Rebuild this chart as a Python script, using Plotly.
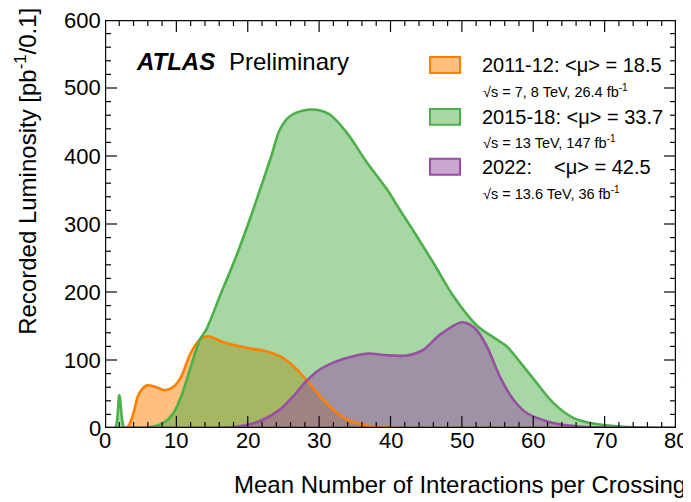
import plotly.graph_objects as go

# ---------------- data ----------------
mu_2011 = [0, 3, 3.3, 4, 4.7, 5.8, 7, 8.4, 9.6, 10.7, 11.9, 13.3, 14.5, 16.6, 19.8, 22.6,
           24.5, 26.4, 28.2, 30.1, 32, 33.9, 36.6, 39.5, 42, 80]
lumi_2011 = [0, 0, 3, 22, 49, 62.5, 60.6, 55.6, 60.6, 76, 108, 130, 135, 126, 118, 113,
             105.6, 91, 71, 47, 27, 12.5, 3.7, 1, 0, 0]

mu_2015 = [0, 1.4, 2.0, 2.7, 3.5, 6.2, 8.2, 9.6, 10.7, 11.9, 13.3, 14.2, 16.1, 18.4, 20.3,
           21.9, 23.3, 24.5, 25.9, 27.8, 29.6, 31.5, 33.9, 36.6, 39.5, 41.3, 43.2, 46.0,
           48.8, 51.1, 52.5, 54.9, 56.3, 58.6, 60.5, 62.8, 65.6, 68.4, 72.1, 75, 80]
lumi_2015 = [0, 0, 48, 0, 0, 1, 7.6, 22, 47, 86, 130, 145, 194, 253, 307,
             356, 400, 439, 458.5, 467, 468, 461, 434, 392, 351, 321, 290, 243,
             194, 162, 147, 130, 120, 91, 66, 37, 15, 6.6, 2, 0.5, 0]

mu_2022 = [0, 15, 18, 20.1, 22.2, 24.5, 26.4, 28.2, 30.1, 32.4, 34.8, 36.9, 39.4, 42.3,
           44.6, 46.9, 50, 51.8, 53.5, 55.3, 57.2, 59.1, 61.9, 64.7, 68.4, 80]
lumi_2022 = [0, 0, 1, 5, 12.5, 27, 47, 69, 86, 98, 105.6, 109.6, 107, 106.6,
             115, 137, 155.6, 147, 120, 76, 42, 22, 10, 4, 1, 0]

series_names = ["2011-12", "2015-18", "2022"]
mean_mu = ["18.5", "33.7", "42.5"]
energy_text = ["√s = 7, 8 TeV, 26.4 fb<sup>-1</sup>",
               "√s = 13 TeV, 147 fb<sup>-1</sup>",
               "√s = 13.6 TeV, 36 fb<sup>-1</sup>"]

x_range = [0, 80]
y_range = [0, 600]
x_major = list(range(0, 81, 10))
x_minor = list(range(0, 81, 2))
y_major = list(range(0, 601, 100))
y_minor = list(range(0, 601, 20))

# ---------------- styling ----------------
FONT = "Liberation Sans, Arial, Helvetica, sans-serif"
line_cols = ["rgb(255,127,0)", "rgb(77,175,74)", "rgb(152,78,163)"]
fill_cols = ["rgba(255,127,0,0.5)", "rgba(77,175,74,0.5)", "rgba(152,78,163,0.5)"]

OFF = 8  # default body margin of the html page
W, H = 691 - OFF, 502 - OFF
L, R, T, B = 105, 676, 20, 428.5   # plot-area edges in page pixels
PW, PH = R - L, B - T


def px(x):
    return (x - L) / PW


def py(y):
    return (B - y) / PH


fig = go.Figure()
xs = [mu_2011, mu_2015, mu_2022]
ys = [lumi_2011, lumi_2015, lumi_2022]

for i in range(3):
    fig.add_trace(go.Scatter(x=xs[i], y=ys[i], mode="lines", fill="tozeroy",
                             fillcolor=fill_cols[i],
                             line=dict(width=0, shape="spline", smoothing=0.8,
                                       color=line_cols[i]),
                             hoverinfo="skip", showlegend=False))
for i in range(3):
    fig.add_trace(go.Scatter(x=xs[i], y=ys[i], mode="lines", name=series_names[i],
                             line=dict(width=2.6, color=line_cols[i], shape="spline",
                                       smoothing=0.8),
                             showlegend=False))

# ---- frame and inside ticks, drawn as a line trace on the axes ----
ux = (x_range[1] - x_range[0]) / PW   # data units per pixel, x
uy = (y_range[1] - y_range[0]) / PH   # data units per pixel, y
MAJ, MIN = 12, 6
tx, ty = [], []
for v in x_minor:
    ln = (MAJ if v in x_major else MIN) * uy
    tx += [v, v, None, v, v, None]
    ty += [y_range[0], y_range[0] + ln, None, y_range[1], y_range[1] - ln, None]
for v in y_minor:
    ln = (MAJ if v in y_major else MIN) * ux
    tx += [x_range[0], x_range[0] + ln, None, x_range[1], x_range[1] - ln, None]
    ty += [v, v, None, v, v, None]
fig.add_trace(go.Scatter(x=tx, y=ty, mode="lines", line=dict(color="rgb(10,10,10)", width=1.2),
                         hoverinfo="skip", showlegend=False, cliponaxis=False))
fx = [x_range[0], x_range[1], x_range[1], x_range[0], x_range[0]]
fy = [y_range[0], y_range[0], y_range[1], y_range[1], y_range[0]]
fig.add_trace(go.Scatter(x=fx, y=fy, mode="lines", line=dict(color="rgb(10,10,10)", width=2.4),
                         hoverinfo="skip", showlegend=False, cliponaxis=False))

fig.update_xaxes(range=x_range, showgrid=False, zeroline=False, showline=False,
                 showticklabels=False, ticks="")
fig.update_yaxes(range=y_range, showgrid=False, zeroline=False, showline=False,
                 showticklabels=False, ticks="")

annotations = []
shapes = []


def xfrac(v):
    return (v - x_range[0]) / (x_range[1] - x_range[0])


def yfrac(v):
    return (v - y_range[0]) / (y_range[1] - y_range[0])


# tick labels
for v in x_major:
    annotations.append(dict(text=str(v), x=xfrac(v), y=py(441), xref="paper",
                            yref="paper", xanchor="center", yanchor="middle",
                            showarrow=False,
                            font=dict(family=FONT, size=22, color="black")))
for v in y_major:
    annotations.append(dict(text=str(v), x=px(103), y=yfrac(v), xref="paper",
                            yref="paper", xanchor="right", yanchor="middle",
                            showarrow=False,
                            font=dict(family=FONT, size=22, color="black")))

annotations.append(dict(text="Mean Number of Interactions per Crossing",
                        x=px(688), y=py(485), xref="paper", yref="paper",
                        xanchor="right", yanchor="middle", showarrow=False,
                        font=dict(family=FONT, size=24, color="black")))
annotations.append(dict(text="Recorded Luminosity [pb<sup>-1</sup>/0.1]",
                        x=px(26), y=py(172), xref="paper", yref="paper",
                        xanchor="center", yanchor="middle", textangle=-90,
                        showarrow=False,
                        font=dict(family=FONT, size=24, color="black")))

annotations.append(dict(text="<b><i>ATLAS</i></b>", x=px(134), y=py(62),
                        xref="paper", yref="paper", xanchor="left", yanchor="middle",
                        showarrow=False, font=dict(family=FONT, size=24, color="black")))
annotations.append(dict(text="Preliminary", x=px(227), y=py(62),
                        xref="paper", yref="paper", xanchor="left", yanchor="middle",
                        showarrow=False, font=dict(family=FONT, size=24, color="black")))

row_y = [65, 117, 167]
sub_y = [91, 142, 193]
for i in range(3):
    shapes.append(dict(type="rect", xref="paper", yref="paper",
                       x0=px(430), x1=px(460), y0=py(row_y[i] - 8), y1=py(row_y[i] + 8),
                       fillcolor=fill_cols[i], line=dict(color=line_cols[i], width=2)))
    if i < 2:
        annotations.append(dict(text=f"{series_names[i]}: &lt;μ&gt; = {mean_mu[i]}",
                                x=px(480), y=py(row_y[i]), xref="paper", yref="paper",
                                xanchor="left", yanchor="middle", showarrow=False,
                                font=dict(family=FONT, size=20, color="black")))
    else:
        annotations.append(dict(text=f"{series_names[i]}:",
                                x=px(480), y=py(row_y[i]), xref="paper", yref="paper",
                                xanchor="left", yanchor="middle", showarrow=False,
                                font=dict(family=FONT, size=20, color="black")))
        annotations.append(dict(text=f"&lt;μ&gt; = {mean_mu[i]}",
                                x=px(653), y=py(row_y[i]), xref="paper", yref="paper",
                                xanchor="right", yanchor="middle", showarrow=False,
                                font=dict(family=FONT, size=20, color="black")))
    annotations.append(dict(text=energy_text[i], x=px(481), y=py(sub_y[i]),
                            xref="paper", yref="paper", xanchor="left", yanchor="middle",
                            showarrow=False, font=dict(family=FONT, size=14.5, color="black")))

annotations.append(dict(text="lumi-2022-v1", x=px(686), y=py(360), xref="paper",
                        yref="paper", xanchor="center", yanchor="middle", textangle=-90,
                        showarrow=False, font=dict(family=FONT, size=7, color="#555")))

fig.update_layout(width=W, height=H,
                  margin=dict(l=L - OFF, r=W - (R - OFF), t=T - OFF, b=H - (B - OFF),
                              pad=0, autoexpand=False),
                  paper_bgcolor="white", plot_bgcolor="white",
                  annotations=annotations, shapes=shapes, showlegend=False)

fig.write_html("out.html")
